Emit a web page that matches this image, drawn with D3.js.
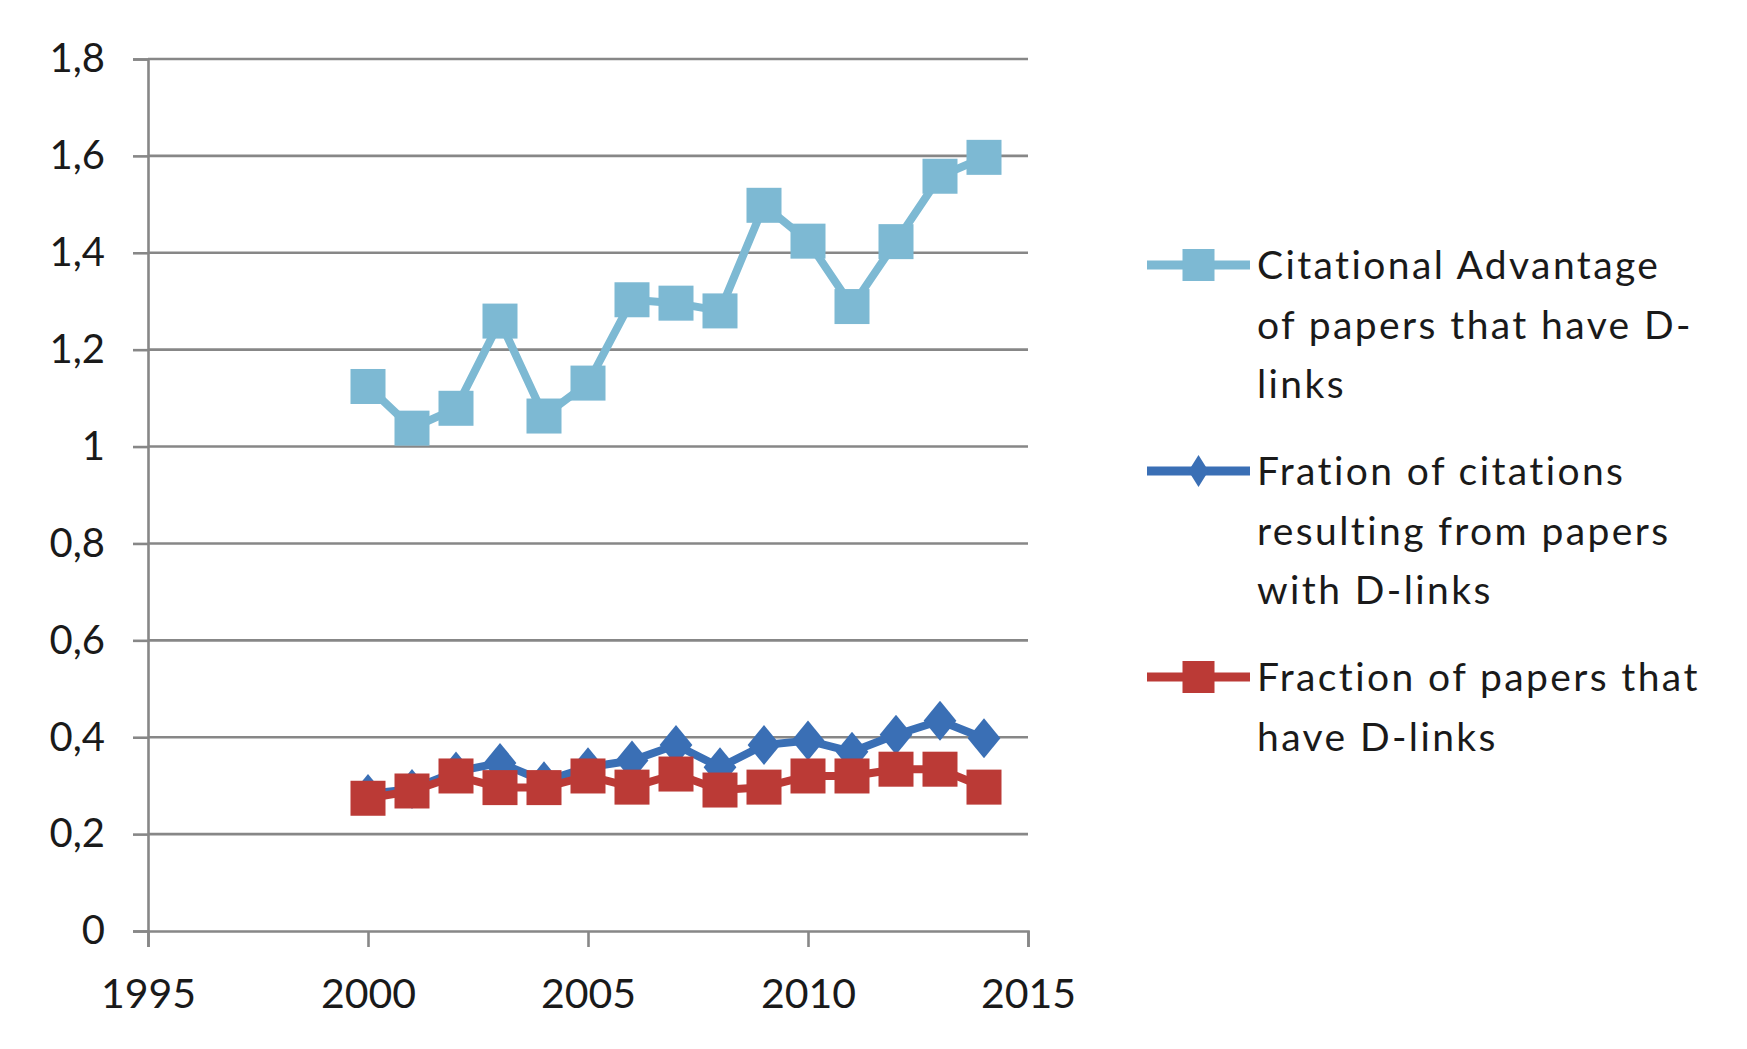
<!DOCTYPE html>
<html>
<head>
<meta charset="utf-8">
<script src="https://cdn.jsdelivr.net/npm/d3@7"></script>
<style>
  html, body { margin: 0; padding: 0; background: #ffffff; }
  svg { display: block; }
  text { font-family: Lato, "Open Sans", sans-serif; fill: #1a1a1a; }
</style>
</head>
<body>
<svg id="chart" width="1747" height="1049"></svg>
<script>
// ---- data ----
const years = [2000, 2001, 2002, 2003, 2004, 2005, 2006, 2007, 2008, 2009, 2010, 2011, 2012, 2013, 2014];
const citationalAdvantage = [1.124, 1.038, 1.079, 1.259, 1.063, 1.131, 1.303, 1.296, 1.280, 1.498, 1.424, 1.289, 1.423, 1.558, 1.597];
const fractionCitations = [0.283, 0.293, 0.329, 0.347, 0.309, 0.338, 0.352, 0.384, 0.338, 0.384, 0.393, 0.370, 0.405, 0.434, 0.398];
const fractionPapers = [0.274, 0.289, 0.320, 0.296, 0.296, 0.320, 0.297, 0.324, 0.291, 0.297, 0.320, 0.320, 0.334, 0.334, 0.297];
const xTicks = [1995, 2000, 2005, 2010, 2015];
const yTicks = [0, 0.2, 0.4, 0.6, 0.8, 1, 1.2, 1.4, 1.6, 1.8];
const seriesNames = [
  ["Citational Advantage", "of papers that have D-", "links"],
  ["Fration of citations", "resulting from papers", "with D-links"],
  ["Fraction of papers that", "have D-links"]
];

const series = [
  { values: citationalAdvantage, color: "#7db9d3", marker: "square", label: seriesNames[0] },
  { values: fractionCitations, color: "#3a6fb5", marker: "diamond", label: seriesNames[1] },
  { values: fractionPapers, color: "#bb3a36", marker: "square", label: seriesNames[2] }
];

// ---- layout ----
const svg = d3.select("#chart");
const plotLeft = 148, plotRight = 1028, plotTop = 59, plotBottom = 931;
const x = d3.scaleLinear().domain([1995, 2015]).range([plotLeft, plotRight]);
const y = d3.scaleLinear().domain([0, 1.8]).range([plotBottom, plotTop]);
const gridColor = "#878787";
const locale = d3.formatLocale({ decimal: ",", thousands: ".", grouping: [3], currency: ["", ""] });
const fmt = locale.format(".1~f");

// gridlines
svg.append("g").selectAll("line").data(yTicks.filter(d => d > 0)).join("line")
  .attr("x1", plotLeft).attr("x2", plotRight)
  .attr("y1", d => y(d)).attr("y2", d => y(d))
  .attr("stroke", gridColor).attr("stroke-width", 2.6);

// y axis
const yAxis = svg.append("g").attr("transform", `translate(${plotLeft},0)`)
  .call(d3.axisLeft(y).tickValues(yTicks).tickFormat(fmt).tickSize(15).tickPadding(28));
yAxis.select(".domain").attr("stroke", gridColor).attr("stroke-width", 2.6);
yAxis.selectAll(".tick line").attr("stroke", gridColor).attr("stroke-width", 2.6);
yAxis.selectAll(".tick text").attr("font-size", 40).attr("font-family", "Lato, sans-serif").attr("fill", "#1a1a1a");

// x axis
const xAxis = svg.append("g").attr("transform", `translate(0,${plotBottom})`)
  .call(d3.axisBottom(x).tickValues(xTicks).tickFormat(d3.format("d")).tickSize(16).tickPadding(32));
xAxis.select(".domain").attr("stroke", gridColor).attr("stroke-width", 2.6);
xAxis.selectAll(".tick line").attr("stroke", gridColor).attr("stroke-width", 2.6);
xAxis.selectAll(".tick text").attr("font-size", 41).attr("font-family", "Lato, sans-serif").attr("fill", "#1a1a1a");

// ---- series ----
const line = d3.line().x((d, i) => x(years[i])).y(d => y(d));
const sq = 35, dia = 20;
function drawMarker(g, type, color, cx, cy, s) {
  if (type === "square") {
    g.append("rect").attr("x", cx - s / 2).attr("y", cy - s / 2)
      .attr("width", s).attr("height", s).attr("fill", color);
  } else {
    const hw = s * 0.82, hh = s;
    g.append("path").attr("d", `M${cx},${cy - hh}L${cx + hw},${cy}L${cx},${cy + hh}L${cx - hw},${cy}Z`)
      .attr("fill", color);
  }
}
series.forEach(s => {
  const g = svg.append("g");
  g.append("path").datum(s.values).attr("d", line)
    .attr("fill", "none").attr("stroke", s.color).attr("stroke-width", 8)
    .attr("stroke-linejoin", "round");
  s.values.forEach((v, i) => {
    drawMarker(g, s.marker, s.color, x(years[i]), y(v), s.marker === "square" ? sq : dia);
  });
});

// ---- legend ----
const legendX1 = 1147, legendX2 = 1250, textX = 1257, lineGap = 59.6;
const legendY = [265, 471, 677];
series.forEach((s, k) => {
  const g = svg.append("g");
  const ly = legendY[k];
  g.append("line").attr("x1", legendX1).attr("x2", legendX2).attr("y1", ly).attr("y2", ly)
    .attr("stroke", s.color).attr("stroke-width", 9);
  const cx = (legendX1 + legendX2) / 2;
  if (s.marker === "square") drawMarker(g, "square", s.color, cx, ly, 32);
  else {
    g.append("path").attr("d", `M${cx},${ly - 16}L${cx + 10},${ly}L${cx},${ly + 16}L${cx - 10},${ly}Z`).attr("fill", s.color);
  }
  s.label.forEach((t, j) => {
    g.append("text").attr("x", textX).attr("y", ly + j * lineGap).attr("dy", "0.36em")
      .attr("font-size", 39).attr("letter-spacing", 2.4).text(t);
  });
});
</script>
</body>
</html>
